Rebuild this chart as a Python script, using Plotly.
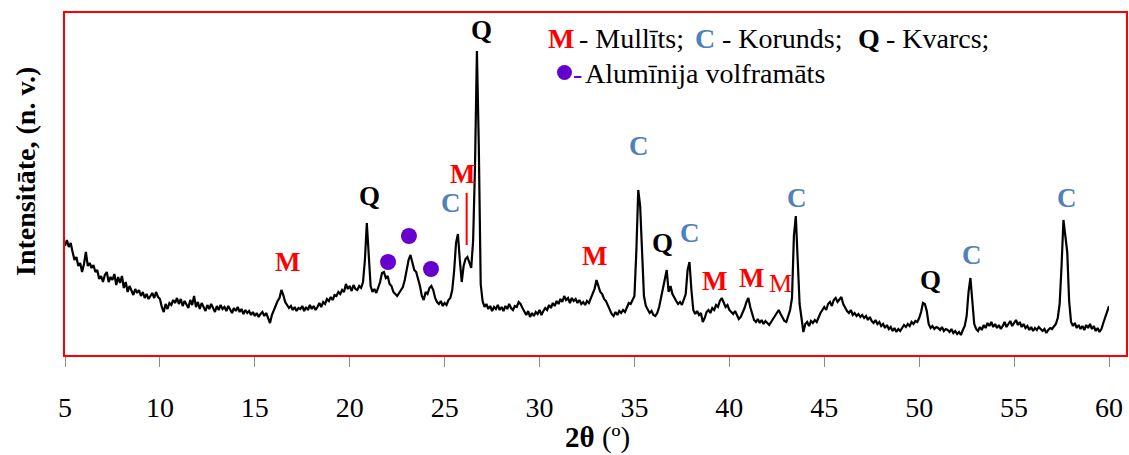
import numpy as np
import plotly.graph_objects as go

# --- XRD scan: 2θ grid and measured intensity (arbitrary units) ---
two_theta_start = 5.0
two_theta_step = 0.1

intensity = [
    # 5.0 - 5.9
    110, 116, 109, 113, 104, 96, 99, 90, 93, 84,
    # 6
    92, 104, 90, 93, 88, 91, 84, 86, 77, 80,
    # 7
    74, 81, 84, 74, 79, 76, 82, 71, 79, 73,
    # 8
    80, 68, 74, 64, 70, 66, 61, 67, 63, 66,
    # 9
    60, 64, 58, 62, 57, 60, 63, 58, 64, 59,
    # 10
    57, 49, 44, 52, 47, 53, 51, 56, 53, 58,
    # 11
    52, 57, 50, 55, 52, 48, 56, 51, 60, 49,
    # 12
    54, 47, 53, 49, 45, 51, 47, 52, 48, 44,
    # 13
    50, 46, 51, 47, 49, 45, 50, 46, 43, 48,
    # 14
    45, 49, 44, 47, 42, 46, 43, 45, 41, 44,
    # 15
    40, 43, 39, 42, 44, 40, 43, 38, 33, 41,
    # 16
    46, 50, 55, 58, 66, 61, 54, 51, 48, 50,
    # 17
    46, 49, 45, 48, 47, 50, 45, 49, 46, 51,
    # 18
    47, 50, 46, 49, 53, 49, 54, 52, 57, 55,
    # 19
    59, 56, 61, 60, 64, 62, 66, 64, 72, 67,
    # 20
    70, 65, 71, 67, 66, 70, 68, 74, 96, 133,
    # 21
    100, 70, 64, 67, 63, 69, 74, 83, 84, 78,
    # 22
    80, 72, 70, 64, 62, 60, 63, 66, 69, 76,
    # 23
    85, 96, 101, 92, 86, 84, 78, 70, 60, 56,
    # 24
    64, 62, 68, 70, 66, 58, 54, 52, 55, 50,
    # 25
    53, 51, 56, 58, 66, 85, 113, 122, 96, 74,
    # 26
    90, 97, 99, 94, 88, 115, 190, 305, 210, 72,
    # 27
    55, 49, 52, 47, 50, 45, 49, 47, 51, 46,
    # 28
    49, 45, 50, 47, 52, 48, 46, 50, 49, 54,
    # 29
    52, 48, 44, 41, 45, 39, 43, 40, 44, 42,
    # 30
    46, 41, 45, 48, 46, 51, 48, 53, 50, 55,
    # 31
    52, 57, 54, 60, 56, 58, 53, 58, 55, 57,
    # 32
    53, 56, 52, 54, 51, 55, 53, 58, 62, 67,
    # 33
    76, 69, 64, 62, 57, 55, 50, 46, 42, 40,
    # 34
    44, 41, 45, 43, 46, 44, 49, 53, 52, 56,
    # 35
    60, 105, 166, 150, 95, 60, 50, 46, 43, 45,
    # 36
    41, 40, 43, 49, 58, 66, 74, 86, 64, 70,
    # 37
    62, 58, 55, 52, 54, 51, 56, 62, 86, 94,
    # 38
    66, 46, 42, 45, 41, 43, 34, 38, 44, 46,
    # 39
    43, 48, 46, 51, 49, 55, 58, 53, 49, 51,
    # 40
    46, 44, 42, 45, 40, 37, 39, 43, 48, 54,
    # 41
    58, 49, 43, 36, 34, 37, 33, 36, 32, 35,
    # 42
    33, 31, 34, 37, 41, 44, 46, 42, 38, 35,
    # 43
    34, 40, 46, 58, 120, 140, 95, 52, 38, 24,
    # 44
    32, 34, 30, 35, 33, 36, 34, 39, 43, 46,
    # 45
    49, 46, 52, 54, 50, 56, 58, 54, 57, 59,
    # 46
    52, 48, 45, 43, 46, 41, 43, 40, 42, 39,
    # 47
    41, 38, 40, 36, 39, 35, 33, 36, 32, 34,
    # 48
    30, 32, 28, 31, 27, 29, 25, 28, 24, 27,
    # 49
    25, 28, 31, 29, 32, 30, 34, 32, 35, 34,
    # 50
    38, 44, 53, 52, 45, 32, 28, 30, 27, 29,
    # 51
    28, 26, 29, 25, 27, 26, 24, 27, 23, 25,
    # 52
    22, 24, 21, 26, 30, 40, 64, 78, 52, 32,
    # 53
    27, 25, 29, 26, 31, 28, 33, 30, 34, 29,
    # 54
    32, 28, 31, 27, 30, 34, 29, 32, 35, 30,
    # 55
    33, 36, 31, 34, 29, 32, 28, 30, 26, 29,
    # 56
    25, 28, 26, 29, 27, 25, 27, 23, 26, 28,
    # 57
    27, 30, 32, 38, 52, 90, 136, 120, 104, 55,
    # 58
    34, 30, 33, 28, 31, 27, 30, 26, 31, 28,
    # 59
    32, 27, 30, 25, 28, 24, 27, 33, 38, 44,
    # 60
    50,
]
two_theta = np.round(two_theta_start + two_theta_step * np.arange(len(intensity)), 2)

# --- Phase labels: (text, 2θ, height, colour key, bold) ---
phase_labels = [
    ("M", 16.70, 94, "M", True),
    ("Q", 21.02, 160, "Q", True),
    ("C", 25.34, 153, "C", True),
    ("M", 25.92, 182, "M", True),
    ("Q", 26.92, 326, "Q", True),
    ("M", 32.87, 100, "M", True),
    ("C", 35.24, 210, "C", True),
    ("Q", 36.50, 113, "Q", True),
    ("C", 37.93, 123, "C", True),
    ("M", 39.24, 75, "M", True),
    ("M", 41.19, 78, "M", True),
    ("M", 42.67, 73, "M", False),
    ("C", 43.56, 158, "C", True),
    ("Q", 50.57, 76, "Q", True),
    ("C", 52.78, 101, "C", True),
    ("C", 57.79, 158, "C", True),
]
# aluminium tungstate reflections
tungstate_theta = [22.02, 23.12, 24.28]
tungstate_height = [94, 120, 87]
# marker line for the mullite reflection on the quartz shoulder
mullite_tick_theta = 26.16
mullite_tick_range = [111, 163]

colors = {"M": "#ff0000", "C": "#4f81bd", "Q": "#000000", "W": "#6600cc"}
serif = "Liberation Serif"

fig = go.Figure()
fig.add_trace(go.Scatter(
    x=two_theta, y=intensity, mode="lines",
    line=dict(color="#000000", width=2.2), hoverinfo="skip", showlegend=False,
))
fig.add_trace(go.Scatter(
    x=tungstate_theta, y=tungstate_height, mode="markers",
    marker=dict(color=colors["W"], size=16), hoverinfo="skip", showlegend=False,
))
fig.add_trace(go.Scatter(
    x=[mullite_tick_theta, mullite_tick_theta], y=mullite_tick_range, mode="lines",
    line=dict(color=colors["M"], width=2), hoverinfo="skip", showlegend=False,
))

annotations = []
for text, tx, ty, key, bold in phase_labels:
    annotations.append(dict(
        x=tx, y=ty, xref="x", yref="y", text=f"<b>{text}</b>" if bold else text,
        showarrow=False, xanchor="center", yanchor="middle",
        font=dict(family=serif, size=27 if bold else 26, color=colors[key]),
    ))

# paper-coordinate helpers (pixel positions within the 1129x455 canvas)
W = 1129 - 65 - 20
H = 455 - 12 - 99


def px(xp):
    return (xp - 65) / W


def py(yp):
    return (356 - yp) / H


# key: (text, left pixel, centre pixel, colour, bold)
key_items = [
    ("M", 548, 38, colors["M"], True),
    ("- Mullīts;", 579, 38, "#000000", False),
    ("C", 695, 38, colors["C"], True),
    ("- Korunds;", 722, 38, "#000000", False),
    ("Q", 858, 38, "#000000", True),
    ("- Kvarcs;", 886, 38, "#000000", False),
    ("-", 573, 73, colors["W"], False),
    ("Alumīnija volframāts", 585, 73, "#000000", False),
]
for text, xl, yc, col, bold in key_items:
    annotations.append(dict(
        x=px(xl), y=py(yc), xref="paper", yref="paper",
        text=f"<b>{text}</b>" if bold else text,
        showarrow=False, xanchor="left", yanchor="middle", borderpad=0, xshift=-1,
        font=dict(family=serif, size=28, color=col),
    ))

# axis titles
annotations.append(dict(
    x=px(25), y=py(172), xref="paper", yref="paper",
    text="<b>Intensitāte, (n. v.)</b>", textangle=-90,
    showarrow=False, xanchor="center", yanchor="middle",
    font=dict(family=serif, size=28, color="#000000"),
))
annotations.append(dict(
    x=px(597), y=py(437), xref="paper", yref="paper",
    text="<b>2θ</b> (º)",
    showarrow=False, xanchor="center", yanchor="middle",
    font=dict(family=serif, size=29, color="#000000"),
))

shapes = [
    # plot frame
    dict(type="rect", xref="paper", yref="paper",
         x0=px(64), x1=px(1127), y0=0, y1=1,
         line=dict(color="#ff0000", width=2), fillcolor="rgba(0,0,0,0)"),
    # key marker
    dict(type="circle", xref="paper", yref="paper",
         x0=px(557), x1=px(572), y0=py(80), y1=py(65),
         line=dict(color=colors["W"], width=0), fillcolor=colors["W"]),
]

fig.update_layout(
    width=1129, height=455,
    margin=dict(l=65, r=20, t=12, b=99, autoexpand=False),
    paper_bgcolor="white", plot_bgcolor="white",
    showlegend=False,
    font=dict(family=serif),
    annotations=annotations, shapes=shapes,
    xaxis=dict(
        range=[5, 60], tickvals=list(range(5, 61, 5)),
        ticks="outside", ticklen=10, tickwidth=1, tickcolor="#8c8c8c",
        showgrid=False, zeroline=False, showline=False, automargin=False,
        tickfont=dict(family=serif, size=28, color="#000000"),
        ticklabelstandoff=16,
    ),
    yaxis=dict(
        range=[0, 344], showticklabels=False, ticks="",
        showgrid=False, zeroline=False, showline=False, automargin=False,
    ),
)

fig.write_html("out.html")
